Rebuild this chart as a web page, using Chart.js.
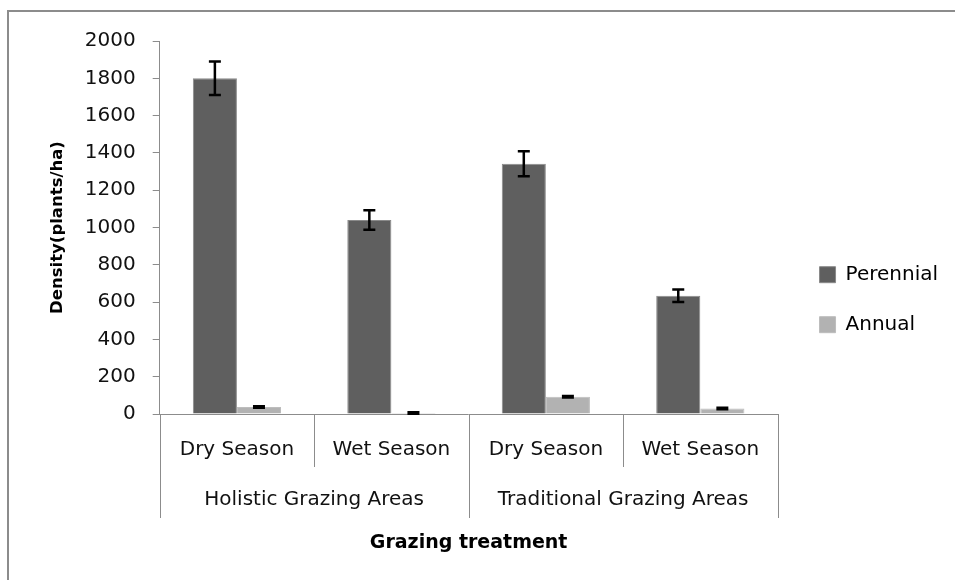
<!DOCTYPE html>
<html>
<head>
<meta charset="utf-8">
<script src="https://cdn.jsdelivr.net/npm/chart.js"></script>
<style>
  html, body { margin: 0; padding: 0; background: #fff; }
  #wrap { position: relative; width: 955px; height: 580px; overflow: hidden; }
  #frame { position: absolute; left: 7px; top: 10px; right: -5px; bottom: -5px;
           border-left: 2px solid #8c8c8c; border-top: 2px solid #8c8c8c; }
  #myChart { position: absolute; left: 0; top: 0; }
</style>
</head>
<body>
<div id="wrap">
  <div id="frame"></div>
  <canvas id="myChart" width="955" height="580"></canvas>
</div>
<script>
const seasons = ['Dry Season', 'Wet Season', 'Dry Season', 'Wet Season'];
const areas = ['Holistic Grazing Areas', 'Traditional Grazing Areas'];
const perennial = [1800, 1040, 1342, 634];
const perennialErr = [90, 52, 67, 33];
const annual = [38, 5, 92, 30];
const annualErr = [4, 4, 4, 4];
const yTicks = [0, 200, 400, 600, 800, 1000, 1200, 1400, 1600, 1800, 2000];

Chart.defaults.font.family = 'DejaVu Sans';
Chart.defaults.font.size = 20;
Chart.defaults.color = '#111';

const axisGray = '#8c8c8c';

// black error bars with caps, drawn on top of each bar
const errorBars = {
  id: 'errorBars',
  afterDatasetsDraw(chart) {
    const ctx = chart.ctx;
    const y = chart.scales.y;
    ctx.save();
    ctx.strokeStyle = '#000';
    ctx.lineWidth = 2.5;
    chart.data.datasets.forEach((ds, i) => {
      const meta = chart.getDatasetMeta(i);
      meta.data.forEach((bar, j) => {
        const top = y.getPixelForValue(ds.data[j] + ds.errors[j]);
        const bot = y.getPixelForValue(ds.data[j] - ds.errors[j]);
        const cap = 6;
        ctx.beginPath();
        ctx.moveTo(bar.x, top); ctx.lineTo(bar.x, bot);
        ctx.moveTo(bar.x - cap, top); ctx.lineTo(bar.x + cap, top);
        ctx.moveTo(bar.x - cap, bot); ctx.lineTo(bar.x + cap, bot);
        ctx.stroke();
      });
    });
    ctx.restore();
  }
};

// vertical separators under the axis: short ones between seasons, long ones between areas
const dividers = {
  id: 'dividers',
  afterDraw(chart) {
    const ctx = chart.ctx;
    const x = chart.scales.x;
    const perGroup = seasons.length / areas.length;
    ctx.save();
    ctx.strokeStyle = axisGray;
    ctx.lineWidth = 1;
    for (let i = 0; i <= seasons.length; i++) {
      const px = Math.round(x.getPixelForValue(i - 0.5)) + 0.5;
      const depth = i % perGroup === 0 ? 104 : 53;
      ctx.beginPath();
      ctx.moveTo(px, x.top);
      ctx.lineTo(px, x.top + depth);
      ctx.stroke();
    }
    ctx.restore();
  }
};

// push the legend a little away from the plot
const legendNudge = {
  id: 'legendNudge',
  afterLayout(chart) {
    chart.legend.left += 12;
    chart.legend.right += 12;
  }
};

const ctx = document.getElementById('myChart');
const myChart = new Chart(ctx, {
  type: 'bar',
  data: {
    labels: seasons,
    datasets: [{
      label: 'Perennial',
      data: perennial,
      errors: perennialErr,
      backgroundColor: '#5f5f5f',
      borderColor: '#8a8a8a',
      borderWidth: 1
    }, {
      label: 'Annual',
      data: annual,
      errors: annualErr,
      backgroundColor: '#b2b2b2',
      borderColor: '#bdbdbd',
      borderWidth: 1
    }]
  },
  options: {
    responsive: false,
    animation: false,
    categoryPercentage: 0.571,
    barPercentage: 1.0,
    layout: { padding: { left: 28, top: 41, right: 19, bottom: 21.6 } },
    plugins: {
      tooltip: { enabled: false },
      legend: {
        position: 'right',
        labels: {
          boxWidth: 16,
          boxHeight: 16,
          padding: 30,
          color: '#000',
          font: { size: 20 }
        }
      }
    },
    scales: {
      x: {
        weight: 0,
        grid: { drawOnChartArea: false, drawTicks: false },
        border: { color: axisGray },
        ticks: { maxRotation: 0, autoSkip: false, padding: 24, font: { size: 20, lineHeight: 1.2 } }
      },
      x2: {
        type: 'category',
        labels: areas,
        position: 'bottom',
        weight: 1,
        offset: true,
        grid: { drawOnChartArea: false, drawTicks: false },
        border: { display: false },
        ticks: { maxRotation: 0, autoSkip: false, padding: 2, font: { size: 20, lineHeight: 1.2 } },
        title: {
          display: true,
          text: 'Grazing treatment',
          color: '#000',
          font: { size: 19, weight: 'bold', lineHeight: 1.2 },
          padding: { top: 17.6, bottom: 4 }
        }
      },
      y: {
        min: 0,
        max: 2000,
        afterBuildTicks: axis => { axis.ticks = yTicks.map(v => ({ value: v })); },
        grid: { drawOnChartArea: false, tickLength: 7, color: axisGray },
        border: { color: axisGray },
        ticks: { padding: 17, font: { size: 20 }, callback: v => String(v) },
        title: {
          display: true,
          text: 'Density(plants/ha)',
          color: '#000',
          font: { size: 16.5, weight: 'bold', lineHeight: 1.2 },
          padding: { top: 20, bottom: 0 }
        }
      }
    }
  },
  plugins: [errorBars, dividers, legendNudge]
});
</script>
</body>
</html>
